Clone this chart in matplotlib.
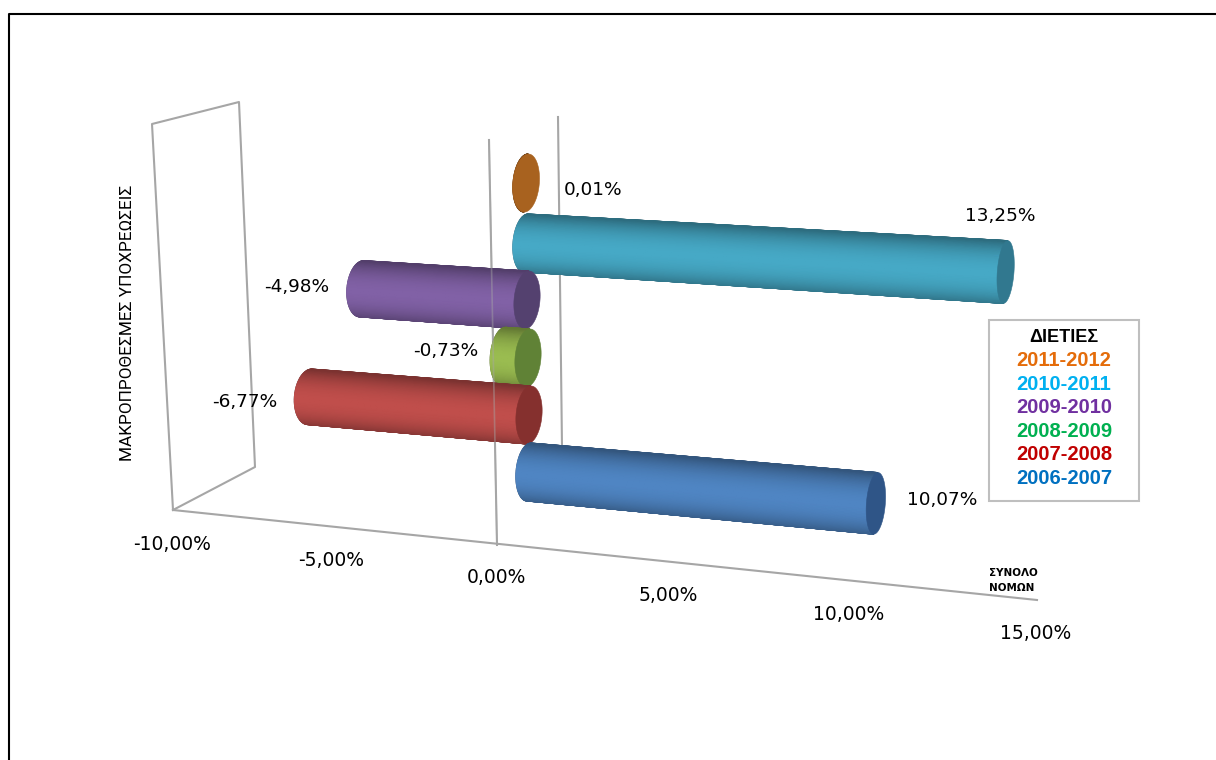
import numpy as np
import matplotlib
matplotlib.use('Agg')
import matplotlib.pyplot as plt
from matplotlib.colors import to_rgb

# series, back to front
periods = ['2011-2012', '2010-2011', '2009-2010', '2008-2009', '2007-2008', '2006-2007']
values = [0.01, 13.25, -4.98, -0.73, -6.77, 10.07]
value_labels = ['0,01%', '13,25%', '-4,98%', '-0,73%', '-6,77%', '10,07%']
body_colors = ['#A8621F', '#46A9C6', '#8161A6', '#9ABC50', '#C04E4B', '#4F85C3']
cap_colors = ['#A8621F', '#31788F', '#54416F', '#608236', '#85302E', '#2F5587']
legend_colors = ['#E46C0A', '#00B0F0', '#7030A0', '#00B050', '#C00000', '#0070C0']
ticks = [-10, -5, 0, 5, 10, 15]
tick_labels = ['-10,00%', '-5,00%', '0,00%', '5,00%', '10,00%', '15,00%']

# where the zero plane sits for each series, in pixels
zero_x = [526, 526, 527, 528, 529, 529]
zero_y = [183, 243, 300, 358, 415, 472]
label_off = [(67, 7), (-5, -56), (-65, -2), (-58, -5), (-65, 5), (66, -3)]
PERSP = -0.004167


def squash(v):
    return v / (1 + PERSP * v)


def project(v, i):
    x = zero_x[i] + (34.5 - 0.3 * i) * squash(v)
    y = zero_y[i] + (x - zero_x[i]) * (0.053 + 0.0075 * i)
    return x, y


def ring(v, i, t):
    # point on the round section of the bar at value v
    cx, cy = project(v, i)
    rx = 13 - 0.35 * v
    ry = 29 + 0.18 * v
    return cx + rx * np.cos(t) - 0.07 * ry * np.sin(t), cy + ry * np.sin(t)


def shade(col, u):
    # u goes -1 (top edge) to 1 (bottom edge)
    k = 1.0 - 0.32 * np.abs(u - 0.05) ** 2.2
    return [c * k for c in to_rgb(col)]


def cylinder(ax, v, i, z):
    lo, hi = min(v, 0), max(v, 0)
    ts = np.linspace(np.pi / 2, 3 * np.pi / 2, 61)
    lx, ly = ring(lo, i, ts)
    hx, hy = ring(hi, i, ts)
    # dark silhouette first so the mesh edge is not jagged
    ax.fill(np.r_[lx, hx[::-1]], np.r_[ly, hy[::-1]], facecolor=cap_colors[i], edgecolor='#5A5A64',
            lw=0.7, zorder=z)
    X = np.column_stack([lx, hx])
    Y = np.column_stack([ly, hy])
    C = np.array([shade(body_colors[i], np.sin(t)) for t in ts])
    C = np.stack([C, C], axis=1)
    ax.pcolormesh(X, Y, C, shading='gouraud', zorder=z + 0.05)
    tt = np.linspace(0, 2 * np.pi, 80)
    cx, cy = ring(hi, i, tt)
    ax.fill(cx, cy, color=cap_colors[i], lw=0.4, zorder=z + 0.1)


fig = plt.figure(figsize=(12.16, 7.6), dpi=100)
ax = fig.add_axes([0, 0, 1, 1])
ax.set_xlim(0, 1216)
ax.set_ylim(760, 0)
ax.axis('off')

# outer frame, only left and top are in the picture
ax.plot([9, 9, 1216], [760, 14, 14], color='black', lw=1.5, zorder=1)

# walls, floor and zero lines
grey = '#A6A6A6'
ax.plot([173, 152, 239, 255, 173], [510, 124, 102, 467, 510], color=grey, lw=1.5, zorder=2)
ax.plot([173, 1037], [510, 600], color=grey, lw=1.5, zorder=2)
ax.plot([558, 562], [117, 447], color=grey, lw=1.5, zorder=2)
ax.plot([489, 497], [140, 545], color=grey, lw=1.5, zorder=2)

for i, v in enumerate(values):
    cylinder(ax, v, i, 3 + i)
ax.plot([489, 497], [140, 545], color=grey, lw=1.2, alpha=0.45, zorder=10)

# axis tick labels follow the floor line
for t, lab in zip(ticks, tick_labels):
    x = 497 + 33.75 * squash(t)
    y = 510 + (x - 173) * 0.104
    ax.text(x - 1, y + 34, lab, ha='center', va='center', fontsize=13.5, color='black')

for i, v in enumerate(values):
    x, y = project(v, i)
    ax.text(x + label_off[i][0], y + label_off[i][1], value_labels[i], ha='center', va='center',
            fontsize=13.3, color='black', zorder=12)

ax.text(127, 323, 'ΜΑΚΡΟΠΡΟΘΕΣΜΕΣ ΥΠΟΧΡΕΩΣΕΙΣ', rotation=90, ha='center', va='center', fontsize=12.4,
        family='Roboto')
ax.text(989, 573, 'ΣΥΝΟΛΟ', ha='left', va='center', fontsize=7.5, fontweight='bold')
ax.text(989, 588, 'ΝΟΜΩΝ', ha='left', va='center', fontsize=7.5, fontweight='bold')

# legend box is text only
ax.fill([989, 1139, 1139, 989], [320, 320, 501, 501], facecolor='white', edgecolor='#BFBFBF', lw=1.5, zorder=11)
ax.text(1064, 338, 'ΔΙΕΤΙΕΣ', ha='center', va='center', fontsize=13, fontweight='bold',
        family='Liberation Sans', zorder=12)
for i, p in enumerate(periods):
    ax.text(1064, 361 + i * 23.4, p, ha='center', va='center', fontsize=14.5, fontweight='bold',
            family='Liberation Sans', color=legend_colors[i], zorder=12)

fig.savefig('out.png', dpi=100)
